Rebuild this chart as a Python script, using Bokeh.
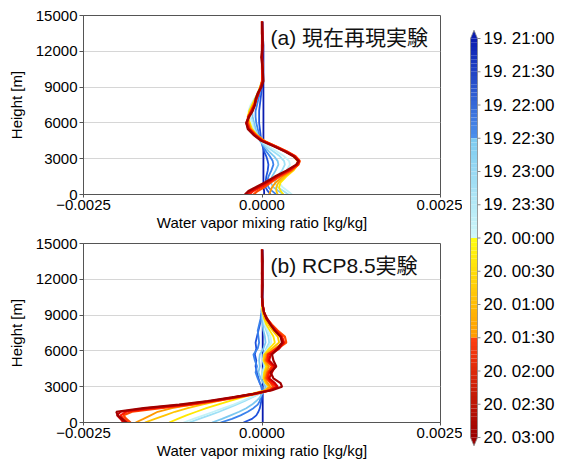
import numpy as np
from bokeh.plotting import figure
from bokeh.layouts import row, column
from bokeh.models import Range1d, FixedTicker, CustomJSTickFormatter, Label, ColumnDataSource
from bokeh.core.properties import value
from bokeh.embed import file_html
from bokeh.resources import INLINE

# ---------------- data ----------------
TIME_LABELS = ["19. 21:00", "19. 21:30", "19. 22:00", "19. 22:30", "19. 23:00", "19. 23:30",
               "20. 00:00", "20. 00:30", "20. 01:00", "20. 01:30", "20. 02:00", "20. 02:30", "20. 03:00"]
LINE_COLORS = ["#0a1cb0", "#1f52dc", "#3a82ec", "#7cc8f0", "#9ee0f6", "#c4f2f8",
               "#ffe800", "#ffc400", "#ff9800", "#ff4a00", "#ff1a00", "#d40000", "#a00000"]
SEG_START = ["#0a1cb0", "#7ccaf0", "#ffff10", "#ff4010"]
SEG_END = ["#4c90ec", "#d0f8fa", "#ff9a00", "#9a0000"]

Y_TICKS = [0, 3000, 6000, 9000, 12000, 15000]
X_TICKS = [-0.0025, 0.0, 0.0025]
UNIT = 1e-4  # series values below are given in units of 1e-4 kg/kg

HEIGHTS_A = [0, 300, 600, 1000, 1500, 2000, 2500, 2800, 3200, 3600, 4000, 4500, 5000, 5500,
             6000, 6500, 7000, 7500, 8000, 8500, 9000, 9500, 10500, 11500, 12500, 13500, 14500]
A_00 = [0.3, 0.3, 0.2, 0.2, 0.2, 0.2, 0.2, 0.2, 0.2, 0.2, 0.2, 0.2, 0.2, 0.2, 0.2, 0.2, 0.2, 0.2, 0.2, 0.2, 0.2, 0.2, 0.2, 0.2, 0.2, 0.1, 0.1]
A_01 = [1.2, 0.8, 0.5, 0.5, 0.6, 0.8, 0.9, 0.8, 0.6, 0.3, 0.1, -0.1, -0.2, -0.3, -0.4, -0.4, -0.4, -0.3, -0.2, -0.1, 0.0, 0.0, 0.0, 0.0, 0.0, 0.0, 0.0]
A_02 = [2.0, 1.4, 0.9, 0.7, 0.9, 1.3, 1.6, 1.5, 1.1, 0.6, 0.2, -0.2, -0.4, -0.6, -0.8, -0.9, -0.9, -0.7, -0.5, -0.3, -0.1, 0.0, 0.0, 0.0, 0.0, 0.0, 0.0]
A_03 = [3.0, 2.3, 1.6, 1.2, 1.4, 1.9, 2.3, 2.2, 1.7, 1.0, 0.4, -0.3, -0.6, -0.9, -1.1, -1.3, -1.4, -1.2, -0.8, -0.5, -0.2, 0.0, 0.0, 0.0, 0.0, 0.0, 0.0]
A_04 = [3.7, 3.0, 2.2, 1.8, 2.1, 2.8, 3.2, 3.1, 2.5, 1.6, 0.7, -0.2, -0.7, -1.1, -1.3, -1.6, -1.8, -1.5, -1.0, -0.6, -0.3, 0.0, 0.0, 0.0, 0.0, 0.0, 0.0]
A_05 = [4.2, 3.6, 2.9, 2.4, 2.7, 3.4, 3.9, 3.8, 3.1, 2.1, 1.0, -0.1, -0.8, -1.2, -1.4, -1.7, -1.9, -1.6, -1.1, -0.6, -0.3, 0.0, 0.0, 0.0, 0.0, 0.0, 0.0]
A_06 = [3.0, 2.6, 2.4, 2.6, 3.4, 4.4, 5.0, 5.0, 4.4, 3.3, 1.9, 0.3, -0.7, -1.4, -1.7, -2.0, -1.8, -1.4, -1.0, -0.6, -0.3, 0.0, 0.0, 0.0, 0.0, 0.0, 0.0]
A_07 = [2.2, 2.0, 2.0, 2.3, 3.2, 4.3, 5.1, 5.1, 4.5, 3.4, 2.0, 0.3, -0.8, -1.5, -1.8, -2.0, -1.7, -1.3, -0.9, -0.6, -0.2, 0.0, 0.0, 0.0, 0.0, 0.0, 0.0]
A_08 = [1.0, 1.2, 1.4, 1.9, 2.9, 4.2, 5.1, 5.2, 4.6, 3.5, 2.1, 0.3, -0.8, -1.6, -1.9, -2.0, -1.6, -1.2, -0.9, -0.5, -0.2, 0.0, 0.1, 0.0, 0.0, 0.0, 0.0]
A_09 = [-1.2, -0.6, 0.3, 1.2, 2.5, 4.0, 5.1, 5.3, 4.7, 3.5, 2.1, 0.2, -0.9, -1.7, -2.0, -1.9, -1.5, -1.1, -0.8, -0.5, -0.2, 0.0, 0.1, 0.0, 0.0, 0.0, 0.0]
A_10 = [-1.8, -1.2, -0.2, 0.9, 2.2, 3.8, 5.0, 5.2, 4.6, 3.4, 2.0, 0.1, -1.0, -1.8, -2.1, -1.9, -1.5, -1.1, -0.8, -0.5, -0.2, 0.1, 0.0, 0.0, 0.1, 0.0, 0.0]
A_11 = [-2.2, -1.6, -0.6, 0.6, 2.0, 3.6, 4.9, 5.2, 4.5, 3.3, 1.9, 0.0, -1.1, -1.9, -2.2, -1.9, -1.4, -1.0, -0.8, -0.5, -0.1, 0.1, 0.1, 0.0, 0.0, 0.1, 0.0]
A_12 = [-2.4, -1.9, -0.9, 0.4, 1.8, 3.4, 4.8, 5.1, 4.4, 3.2, 1.8, -0.1, -1.2, -2.0, -2.2, -1.8, -1.3, -1.0, -0.9, -0.6, -0.1, 0.2, 0.1, -0.1, 0.1, 0.0, 0.0]

HEIGHTS_B = [0, 300, 600, 900, 1200, 1500, 1800, 2100, 2400, 2700, 3000, 3300, 3700, 4200, 4700,
             5200, 5700, 6200, 6700, 7200, 7700, 8200, 8700, 9200, 9800, 10500, 11500, 12500, 13500, 14500]
B_00 = [0.1, 0.1, 0.1, 0.1, 0.1, 0.1, 0.1, 0.1, 0.1, 0.1, 0.1, 0.1, 0.1, 0.1, 0.1, 0.1, 0.1, 0.1, 0.1, 0.1, 0.1, 0.1, 0.1, 0.1, 0.1, 0.1, 0.1, 0.1, 0.1, 0.1]
B_01 = [-2.6, -1.4, -0.8, -0.5, -0.3, -0.2, -0.1, 0.0, 0.0, 0.0, -0.1, -0.3, -0.5, -0.7, -0.9, -0.8, -1.0, -0.8, -0.9, -0.7, -0.5, -0.3, -0.1, 0.0, 0.0, 0.0, 0.0, 0.0, 0.0, 0.0]
B_02 = [-5.8, -4.2, -3.0, -2.0, -1.2, -0.6, -0.3, -0.2, -0.1, 0.0, 0.0, -0.3, -0.6, -0.9, -0.7, -1.0, -1.2, -0.6, -0.4, -0.5, -0.6, -0.4, -0.2, -0.1, 0.0, 0.0, 0.0, 0.0, 0.0, 0.0]
B_03 = [-7.0, -5.6, -4.4, -3.2, -2.2, -1.4, -0.8, -0.3, 0.0, 0.3, 0.5, 0.2, -0.2, -0.5, -0.3, -0.4, -0.3, 0.2, 0.5, 0.4, 0.2, 0.1, 0.0, 0.0, 0.0, 0.0, 0.0, 0.0, 0.0, 0.0]
B_04 = [-10.2, -8.8, -7.4, -6.0, -4.8, -3.6, -2.4, -1.4, -0.4, 0.5, 0.8, 0.5, 0.1, 0.0, 0.3, 0.1, 0.2, 0.6, 1.0, 0.9, 0.6, 0.3, 0.2, 0.1, 0.0, 0.0, 0.0, 0.0, 0.0, 0.0]
B_05 = [-11.0, -9.6, -8.2, -6.8, -5.4, -4.0, -2.8, -1.6, -0.5, 0.6, 1.0, 0.6, 0.2, 0.2, 0.5, 0.3, 0.3, 0.8, 1.3, 1.2, 0.8, 0.4, 0.2, 0.1, 0.0, 0.0, 0.0, 0.0, 0.0, 0.0]
B_06 = [-13.0, -11.8, -10.6, -9.2, -7.8, -6.2, -4.6, -2.8, -1.0, 0.6, 1.0, 0.5, 0.2, 0.3, 0.6, 0.2, 0.3, 1.0, 1.8, 1.6, 1.1, 0.6, 0.3, 0.1, 0.0, 0.0, 0.0, 0.0, 0.0, 0.0]
B_07 = [-16.4, -15.0, -13.6, -12.2, -10.4, -8.4, -6.2, -3.9, -1.5, 0.4, 1.0, 0.6, 0.3, 0.4, 0.8, 0.3, 0.4, 1.4, 2.4, 2.2, 1.5, 0.9, 0.4, 0.1, 0.0, 0.0, 0.0, 0.0, 0.0, 0.0]
B_08 = [-17.7, -16.6, -15.6, -14.6, -12.6, -9.8, -6.8, -3.9, -1.2, 0.6, 1.2, 0.8, 0.4, 0.6, 1.0, 0.4, 0.6, 1.8, 3.0, 2.8, 2.0, 1.2, 0.6, 0.2, 0.1, 0.0, 0.0, 0.0, 0.0, 0.0]
B_09 = [-18.4, -19.0, -19.4, -18.2, -14.2, -9.8, -6.4, -3.4, -0.8, 1.0, 1.6, 1.2, 0.6, 0.8, 1.4, 0.6, 0.8, 2.2, 3.4, 3.2, 2.2, 1.4, 0.7, 0.3, 0.1, 0.0, 0.0, 0.0, 0.0, 0.0]
B_10 = [-18.8, -19.4, -19.8, -19.0, -15.2, -10.4, -6.8, -3.8, -1.0, 1.2, 2.0, 1.4, 0.8, 1.0, 1.6, 0.8, 0.9, 2.0, 3.1, 2.8, 2.0, 1.3, 0.7, 0.3, 0.1, 0.0, 0.0, 0.0, 0.0, 0.0]
B_11 = [-19.4, -19.8, -20.3, -19.8, -16.0, -11.0, -7.2, -4.0, -1.2, 1.2, 2.2, 1.8, 1.0, 1.4, 1.8, 1.0, 1.2, 2.4, 3.0, 2.6, 1.8, 1.2, 0.6, 0.3, 0.1, 0.0, 0.0, 0.1, 0.0, 0.0]
B_12 = [-19.0, -19.6, -20.2, -20.4, -16.6, -11.6, -7.6, -4.2, -1.2, 1.4, 2.8, 2.6, 1.6, 1.2, 2.0, 1.6, 1.4, 2.2, 2.8, 2.6, 1.8, 1.2, 0.7, 0.3, 0.1, 0.0, 0.1, 0.0, 0.1, 0.0]

SERIES_A = [A_00, A_01, A_02, A_03, A_04, A_05, A_06, A_07, A_08, A_09, A_10, A_11, A_12]
SERIES_B = [B_00, B_01, B_02, B_03, B_04, B_05, B_06, B_07, B_08, B_09, B_10, B_11, B_12]

TITLE_A = "(a) 現在再現実験"
TITLE_B = "(b) RCP8.5実験"
X_LABEL = "Water vapor mixing ratio [kg/kg]"
Y_LABEL = "Height [m]"

# ---------------- styling ----------------
FONT = "Liberation Sans"
FIG_W = 462
FRAME_W = 357
BORDER_L = 83
FRAME_H = 179
AX_COLOR = "#555555"


def make_panel(title, heights, series, border_top, border_bottom):
    fig_h = border_top + FRAME_H + border_bottom
    p = figure(width=FIG_W, height=fig_h, output_backend="svg", toolbar_location=None,
               x_range=Range1d(-0.0025, 0.0025), y_range=Range1d(0, 15000),
               min_border_left=BORDER_L, min_border_right=FIG_W - BORDER_L - FRAME_W,
               min_border_top=border_top, min_border_bottom=border_bottom)
    p.outline_line_color = AX_COLOR
    p.outline_line_width = 1
    p.xgrid.grid_line_color = None
    p.ygrid.grid_line_color = "#d6d6d6"
    p.ygrid.ticker = FixedTicker(ticks=Y_TICKS)

    p.yaxis.ticker = FixedTicker(ticks=Y_TICKS)
    p.xaxis.ticker = FixedTicker(ticks=X_TICKS)
    p.xaxis.formatter = CustomJSTickFormatter(
        code="return (tick < 0 ? '\u2212' : '') + Math.abs(tick).toFixed(4);")
    for ax in (p.xaxis[0], p.yaxis[0]):
        ax.axis_line_color = AX_COLOR
        ax.major_tick_line_color = AX_COLOR
        ax.major_tick_in = 0
        ax.minor_tick_line_color = None
        ax.major_label_text_font = FONT
        ax.major_label_text_font_size = "15px"
        ax.major_label_text_color = "black"
        ax.axis_label_text_font = FONT
        ax.axis_label_text_font_size = "15px"
        ax.axis_label_text_font_style = "normal"
        ax.axis_label_text_color = "black"
    p.yaxis.major_tick_out = 4
    p.yaxis.major_label_standoff = 2
    p.yaxis.axis_label = Y_LABEL
    p.yaxis.axis_label_standoff = 8
    p.xaxis.major_tick_out = 3
    p.xaxis.major_label_standoff = 2
    p.xaxis.axis_label = X_LABEL
    p.xaxis.axis_label_standoff = 1

    for i, vals in enumerate(series):
        xs = np.array(vals) * UNIT
        src = ColumnDataSource(dict(x=xs, y=heights))
        p.line("x", "y", source=src, line_color=LINE_COLORS[i], line_width=2.2 if i >= 9 else 1.8)

    p.add_layout(Label(x=0.00012, y=13150, text=title, text_baseline="middle", text_align="left",
                       text_font="Liberation Sans, Noto Sans CJK JP", text_font_size="21px",
                       text_color="#111111"))
    return p


p1 = make_panel(TITLE_A, HEIGHTS_A, SERIES_A, 15, 40)
p2 = make_panel(TITLE_B, HEIGHTS_B, SERIES_B, 9, 40)

# ---------------- colorbar ----------------
CB_W = 100
CB_H = p1.height + p2.height
LABEL_TOP_PX = 38
LABEL_STEP_PX = 33.25
BAR_L, BAR_R = 8, 15
n_lab = len(TIME_LABELS)
pc = figure(width=CB_W, height=CB_H, output_backend="svg", toolbar_location=None,
            x_range=Range1d(0, CB_W),
            y_range=Range1d((CB_H - LABEL_TOP_PX) / LABEL_STEP_PX, -LABEL_TOP_PX / LABEL_STEP_PX),
            x_axis_location=None, y_axis_location=None, min_border=0)
pc.outline_line_color = None
pc.grid.visible = False


def hex_to_rgb(h):
    return np.array([int(h[1:3], 16), int(h[3:5], 16), int(h[5:7], 16)], dtype=float)


def mix(c0, c1, f):
    c = hex_to_rgb(c0) * (1 - f) + hex_to_rgb(c1) * f
    return "#%02x%02x%02x" % tuple(int(round(v)) for v in c)


NSUB = 8
tops, bottoms, cols = [], [], []
per_seg = (n_lab - 1) // len(SEG_START)
for i in range(n_lab - 1):
    seg = i // per_seg
    for k in range(NSUB):
        f = ((i % per_seg) + (k + 0.5) / NSUB) / per_seg
        tops.append(i + k / NSUB)
        bottoms.append(i + (k + 1) / NSUB + 0.002)
        cols.append(mix(SEG_START[seg], SEG_END[seg], f))
pc.quad(left=BAR_L, right=BAR_R, top=tops, bottom=bottoms, fill_color=cols, line_color=None)

tri = 0.25
mid = (BAR_L + BAR_R) / 2
pc.patch([BAR_L, BAR_R, mid], [0, 0, -tri], fill_color=SEG_START[0], line_color=None)
pc.patch([BAR_L, BAR_R, mid], [n_lab - 1, n_lab - 1, n_lab - 1 + tri], fill_color=SEG_END[-1], line_color=None)
pc.line([BAR_L, mid, BAR_R, BAR_R, mid, BAR_L, BAR_L],
        [0, -tri, 0, n_lab - 1, n_lab - 1 + tri, n_lab - 1, 0], line_color="#888888", line_width=0.8)
lab_idx = list(range(n_lab))
pc.segment(x0=[BAR_R] * n_lab, x1=[BAR_R + 3] * n_lab, y0=lab_idx, y1=lab_idx,
           line_color="#888888", line_width=1)
pc.text(x=[BAR_R + 6] * n_lab, y=lab_idx, text=TIME_LABELS, text_baseline="middle", text_align="left",
        text_font=value(FONT), text_font_size="17px", text_color="black")

layout = row(column(p1, p2), pc)
open("out.html", "w").write(file_html(layout, INLINE))
